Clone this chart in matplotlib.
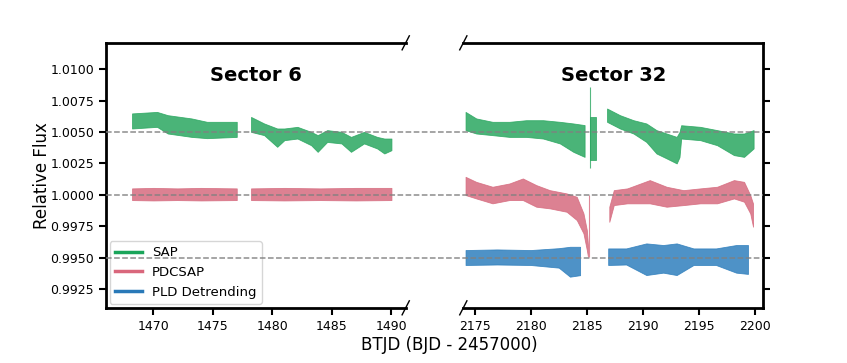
import matplotlib
matplotlib.use('Agg')
import matplotlib.pyplot as plt
from matplotlib.lines import Line2D
from matplotlib.transforms import blended_transform_factory

# Envelopes of the light curves: time, lower edge, upper edge
# Sector 6
s6_sap_1_t = [1468.2, 1470.3, 1471.2, 1473.2, 1474.5, 1477.0]
s6_sap_1_lo = [1.00528, 1.00541, 1.00488, 1.00461, 1.00451, 1.00461]
s6_sap_1_hi = [1.00648, 1.00660, 1.00634, 1.00608, 1.00581, 1.00581]

s6_sap_2_t = [1478.2, 1479.3, 1480.4, 1481.0, 1482.1, 1483.25, 1483.8, 1484.6,
              1485.8, 1486.6, 1487.7, 1488.8, 1489.4, 1490.0]
s6_sap_2_lo = [1.00501, 1.00475, 1.00382, 1.00435, 1.00448, 1.00395, 1.00342, 1.00421,
               1.00409, 1.00342, 1.00409, 1.00369, 1.00329, 1.00355]
s6_sap_2_hi = [1.00620, 1.00568, 1.00528, 1.00528, 1.00541, 1.00501, 1.00475, 1.00515,
               1.00501, 1.00461, 1.00501, 1.00461, 1.00448, 1.00448]

s6_pdc_1_t = [1468.2, 1470.0, 1472.0, 1474.0, 1477.0]
s6_pdc_1_lo = [0.99958, 0.99955, 0.99958, 0.99955, 0.99958]
s6_pdc_1_hi = [1.00051, 1.00055, 1.00051, 1.00055, 1.00051]

s6_pdc_2_t = [1478.2, 1481.0, 1484.0, 1487.0, 1490.0]
s6_pdc_2_lo = [0.99958, 0.99955, 0.99958, 0.99955, 0.99958]
s6_pdc_2_hi = [1.00051, 1.00055, 1.00051, 1.00055, 1.00055]

# Sector 32
s32_sap_1_t = [2174.2, 2175.15, 2176.6, 2178.1, 2179.6, 2181.1, 2182.6, 2183.8, 2184.8]
s32_sap_1_lo = [1.00515, 1.00488, 1.00475, 1.00461, 1.00461, 1.00448, 1.00409, 1.00342, 1.00302]
s32_sap_1_hi = [1.00660, 1.00608, 1.00581, 1.00581, 1.00594, 1.00594, 1.00581, 1.00568, 1.00555]

s32_sap_2_t = [2185.25, 2185.8]
s32_sap_2_lo = [1.00276, 1.00276]
s32_sap_2_hi = [1.00620, 1.00620]

s32_sap_3_t = [2186.8, 2187.95, 2189.15, 2190.3, 2191.2, 2192.1, 2193.0, 2193.25, 2193.4,
               2195.1, 2196.6, 2198.1, 2199.0, 2199.85]
s32_sap_3_lo = [1.00581, 1.00528, 1.00488, 1.00421, 1.00329, 1.00290, 1.00250, 1.00300, 1.00448,
                1.00435, 1.00395, 1.00316, 1.00302, 1.00369]
s32_sap_3_hi = [1.00687, 1.00634, 1.00594, 1.00568, 1.00515, 1.00488, 1.00461, 1.00500, 1.00554,
                1.00541, 1.00515, 1.00488, 1.00488, 1.00515]

s32_pdc_1_t = [2174.2, 2175.15, 2176.6, 2178.1, 2179.3, 2180.5, 2181.7, 2183.2, 2184.1,
               2184.7, 2185.0, 2185.1]
s32_pdc_1_lo = [0.99998, 0.99971, 0.99932, 0.99958, 0.99958, 0.99905, 0.99892, 0.99865, 0.99799,
                0.99693, 0.99560, 0.99507]
s32_pdc_1_hi = [1.00143, 1.00103, 1.00064, 1.00090, 1.00130, 1.00077, 1.00037, 1.00011, 0.99984,
                0.99852, 0.99719, 0.99600]

s32_pdc_2_t = [2187.0, 2187.4, 2188.6, 2190.6, 2192.1, 2193.6, 2195.1, 2196.6, 2198.1,
               2199.0, 2199.55, 2199.8]
s32_pdc_2_lo = [0.99785, 0.99918, 0.99932, 0.99932, 0.99905, 0.99918, 0.99932, 0.99932, 0.99971,
                0.99945, 0.99852, 0.99746]
s32_pdc_2_hi = [0.99905, 1.00037, 1.00051, 1.00117, 1.00064, 1.00037, 1.00051, 1.00064, 1.00117,
                1.00103, 0.99998, 0.99930]

s32_pld_1_t = [2174.2, 2177.0, 2180.0, 2182.5, 2183.5, 2184.4]
s32_pld_1_lo = [0.99441, 0.99445, 0.99441, 0.99420, 0.99348, 0.99360]
s32_pld_1_hi = [0.99560, 0.99565, 0.99560, 0.99575, 0.99586, 0.99586]

s32_pld_2_t = [2186.9, 2188.5, 2190.3, 2191.8, 2193.0, 2194.5, 2196.5, 2198.3, 2199.35]
s32_pld_2_lo = [0.99441, 0.99445, 0.99361, 0.99380, 0.99361, 0.99441, 0.99441, 0.99380, 0.99370]
s32_pld_2_hi = [0.99573, 0.99573, 0.99613, 0.99600, 0.99613, 0.99573, 0.99573, 0.99600, 0.99600]

# isolated spikes: (series, time, low, high)
spikes = [
    ('sap', 2185.25, 1.00212, 1.00859),
    ('pdc', 2185.15, 0.99507, 1.00000),
]

ref_levels = [1.005, 1.000, 0.995]
yticks = [0.9925, 0.9950, 0.9975, 1.0000, 1.0025, 1.0050, 1.0075, 1.0100]
xticks_s6 = [1470, 1475, 1480, 1485, 1490]
xticks_s32 = [2175, 2180, 2185, 2190, 2195, 2200]

colors = {'sap': '#2aa760', 'pdc': '#d66b7f', 'pld': '#2f7fbd'}

fig = plt.figure(figsize=(8.47, 3.63), dpi=100)
ax1 = fig.add_axes([0.125, 0.152, 0.354, 0.730])
ax2 = fig.add_axes([0.547, 0.152, 0.354, 0.730])

def band(ax, t, lo, hi, key):
    ax.fill_between(t, lo, hi, color=colors[key], alpha=0.85, linewidth=0.6,
                    edgecolor=colors[key])

band(ax1, s6_sap_1_t, s6_sap_1_lo, s6_sap_1_hi, 'sap')
band(ax1, s6_sap_2_t, s6_sap_2_lo, s6_sap_2_hi, 'sap')
band(ax1, s6_pdc_1_t, s6_pdc_1_lo, s6_pdc_1_hi, 'pdc')
band(ax1, s6_pdc_2_t, s6_pdc_2_lo, s6_pdc_2_hi, 'pdc')

band(ax2, s32_sap_1_t, s32_sap_1_lo, s32_sap_1_hi, 'sap')
band(ax2, s32_sap_2_t, s32_sap_2_lo, s32_sap_2_hi, 'sap')
band(ax2, s32_sap_3_t, s32_sap_3_lo, s32_sap_3_hi, 'sap')
band(ax2, s32_pdc_1_t, s32_pdc_1_lo, s32_pdc_1_hi, 'pdc')
band(ax2, s32_pdc_2_t, s32_pdc_2_lo, s32_pdc_2_hi, 'pdc')
band(ax2, s32_pld_1_t, s32_pld_1_lo, s32_pld_1_hi, 'pld')
band(ax2, s32_pld_2_t, s32_pld_2_lo, s32_pld_2_hi, 'pld')

for key, t, lo, hi in spikes:
    ax2.vlines(t, lo, hi, color=colors[key], linewidth=0.8, alpha=0.8)

ylim = (0.9910, 1.0121)
for ax in (ax1, ax2):
    ax.set_ylim(ylim)
    ax.set_yticks(yticks)
    for side in ax.spines:
        ax.spines[side].set_linewidth(2)
    ax.tick_params(width=1.5, length=5, labelsize=9)

ax1.set_xlim(1466.0, 1491.2)
ax2.set_xlim(2174.0, 2200.7)
ax1.set_xticks(xticks_s6)
ax2.set_xticks(xticks_s32)
ax1.set_yticklabels(['%.4f' % v for v in yticks])
ax1.spines['right'].set_visible(False)
ax2.spines['left'].set_visible(False)
ax2.yaxis.tick_right()
ax2.tick_params(labelright=False)

# dashed reference levels across both panels (including the gap)
for y in ref_levels:
    tr = blended_transform_factory(fig.transFigure, ax1.transData)
    fig.add_artist(Line2D([0.125, 0.901], [y, y], transform=tr, color='gray',
                          linestyle='--', linewidth=1.1, alpha=0.9, zorder=0.5))

# break marks
d = 0.012
kw = dict(color='k', clip_on=False, linewidth=1)
ax1.plot((1 - d, 1 + d), (-2.2 * d, 2.2 * d), transform=ax1.transAxes, **kw)
ax1.plot((1 - d, 1 + d), (1 - 2.2 * d, 1 + 2.2 * d), transform=ax1.transAxes, **kw)
ax2.plot((-d, d), (-2.2 * d, 2.2 * d), transform=ax2.transAxes, **kw)
ax2.plot((-d, d), (1 - 2.2 * d, 1 + 2.2 * d), transform=ax2.transAxes, **kw)

ax1.text(0.5, 0.875, 'Sector 6', transform=ax1.transAxes, ha='center', va='center',
         fontsize=14, fontweight='bold')
ax2.text(0.5, 0.875, 'Sector 32', transform=ax2.transAxes, ha='center', va='center',
         fontsize=14, fontweight='bold')

handles = [Line2D([], [], color='#1aa55a', linewidth=2.5),
           Line2D([], [], color='#d9677c', linewidth=2.5),
           Line2D([], [], color='#2979b8', linewidth=2.5)]
ax1.legend(handles, ['SAP', 'PDCSAP', 'PLD Detrending'], loc='lower left', fontsize=9.5,
           borderaxespad=0.3)

fig.text(0.05, 0.517, 'Relative Flux', rotation=90, ha='center', va='center', fontsize=12)
fig.text(0.53, 0.05, 'BTJD (BJD - 2457000)', ha='center', va='center', fontsize=12)

fig.savefig('out.png', dpi=100)
